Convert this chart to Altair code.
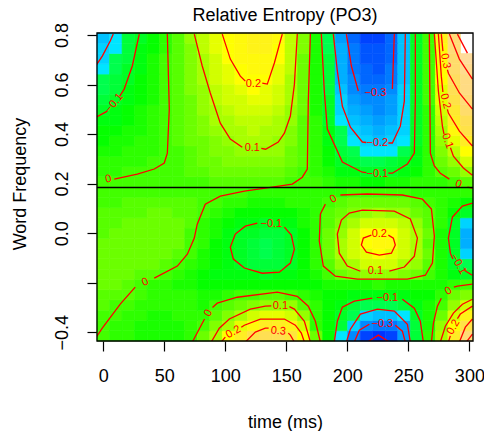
import colorsys
import altair as alt
import pandas as pd

TITLE = "Relative Entropy (PO3)"
X_TITLE = "time (ms)"
Y_TITLE = "Word Frequency"

# grid of the fitted surface (cell centres)
time_ms = [0.0, 10.27, 20.54, 30.81, 41.08, 51.35, 61.62, 71.89, 82.16, 92.43,
           102.7, 112.97, 123.24, 133.51, 143.78, 154.05, 164.32, 174.59, 184.86, 195.13,
           205.4, 215.67, 225.94, 236.21, 246.48, 256.75, 267.02, 277.29, 287.56, 297.83]
word_freq = [-0.415, -0.3735, -0.3321, -0.2906, -0.2491, -0.2077, -0.1662, -0.1247, -0.0832, -0.0418,
             -0.0003, 0.0412, 0.0826, 0.1241, 0.1656, 0.207, 0.2485, 0.29, 0.3315, 0.3729,
             0.4144, 0.4559, 0.4973, 0.5388, 0.5803, 0.6218, 0.6632, 0.7047, 0.7462, 0.7876]

# surface values, one row per word_freq value (bottom row first), one column per time value
z_rows = [
    [-0.005,-0.02,-0.03,-0.04,-0.05,-0.05,-0.04,-0.02,0.045,0.12,0.2,0.28,0.33,0.35,0.35,0.31,0.21,0.05,-0.06,-0.17,-0.28,-0.37,-0.41,-0.37,-0.27,-0.14,-0.02,0.11,0.27,0.42],
    [0.002,-0.015,-0.03,-0.04,-0.045,-0.045,-0.04,-0.03,0.0,0.065,0.12,0.18,0.23,0.27,0.28,0.24,0.15,-0.01,-0.06,-0.13,-0.21,-0.3,-0.32,-0.31,-0.26,-0.135,-0.04,0.08,0.21,0.33],
    [0.01,-0.003,-0.02,-0.03,-0.035,-0.035,-0.03,-0.025,-0.02,0.03,0.065,0.105,0.15,0.18,0.19,0.15,0.08,-0.02,-0.06,-0.11,-0.165,-0.21,-0.23,-0.215,-0.18,-0.105,-0.04,0.05,0.16,0.25],
    [0.02,0.01,-0.005,-0.02,-0.03,-0.03,-0.03,-0.03,-0.04,-0.005,0.02,0.05,0.075,0.095,0.1,0.08,0.015,-0.03,-0.06,-0.095,-0.125,-0.15,-0.16,-0.15,-0.125,-0.085,-0.05,0.005,0.1,0.15],
    [0.03,0.025,0.015,0.005,-0.01,-0.02,-0.025,-0.03,-0.05,-0.045,-0.03,-0.003,0.01,0.02,0.02,0.0,-0.02,-0.05,-0.065,-0.075,-0.085,-0.09,-0.095,-0.09,-0.085,-0.07,-0.055,-0.01,0.04,0.07],
    [0.04,0.035,0.02,0.003,-0.015,-0.03,-0.04,-0.05,-0.06,-0.065,-0.07,-0.07,-0.07,-0.07,-0.065,-0.06,-0.06,-0.055,-0.045,-0.04,-0.04,-0.035,-0.03,-0.035,-0.04,-0.045,-0.05,-0.05,-0.02,0.0],
    [0.045,0.045,0.04,0.03,0.02,-0.003,-0.025,-0.045,-0.065,-0.08,-0.09,-0.09,-0.098,-0.1,-0.097,-0.085,-0.075,-0.045,0.005,0.04,0.065,0.08,0.085,0.08,0.06,0.035,0.0,-0.04,-0.08,-0.11],
    [0.045,0.05,0.05,0.045,0.035,0.02,0.003,-0.025,-0.05,-0.075,-0.095,-0.115,-0.13,-0.135,-0.13,-0.105,-0.075,-0.03,0.03,0.08,0.115,0.15,0.16,0.15,0.12,0.08,0.025,-0.04,-0.1,-0.16],
    [0.04,0.045,0.05,0.05,0.045,0.035,0.02,-0.005,-0.035,-0.065,-0.09,-0.115,-0.135,-0.145,-0.14,-0.11,-0.07,-0.02,0.04,0.11,0.15,0.19,0.205,0.19,0.15,0.105,0.04,-0.04,-0.11,-0.2],
    [0.035,0.04,0.045,0.05,0.05,0.045,0.035,0.005,-0.025,-0.06,-0.09,-0.115,-0.135,-0.145,-0.14,-0.115,-0.07,-0.02,0.04,0.11,0.16,0.21,0.23,0.215,0.16,0.105,0.03,-0.05,-0.12,-0.24],
    [0.03,0.035,0.04,0.045,0.05,0.05,0.04,0.01,-0.02,-0.05,-0.08,-0.1,-0.12,-0.13,-0.125,-0.1,-0.065,-0.02,0.035,0.1,0.15,0.2,0.21,0.205,0.16,0.105,0.035,-0.04,-0.12,-0.24],
    [0.02,0.03,0.035,0.04,0.045,0.045,0.04,0.02,-0.01,-0.035,-0.06,-0.08,-0.095,-0.1,-0.095,-0.08,-0.05,-0.015,0.025,0.07,0.11,0.15,0.16,0.155,0.125,0.085,0.03,-0.03,-0.1,-0.2],
    [0.015,0.02,0.025,0.03,0.035,0.035,0.03,0.02,0.002,-0.02,-0.04,-0.055,-0.065,-0.07,-0.065,-0.055,-0.035,-0.01,0.015,0.045,0.075,0.1,0.105,0.1,0.08,0.055,0.02,-0.02,-0.065,-0.12],
    [0.01,0.012,0.015,0.02,0.022,0.022,0.02,0.015,0.008,-0.005,-0.02,-0.03,-0.035,-0.04,-0.035,-0.03,-0.02,-0.01,0.003,0.02,0.035,0.045,0.05,0.045,0.035,0.025,0.005,-0.015,-0.04,-0.06],
    [0.005,0.006,0.007,0.008,0.01,0.01,0.01,0.01,0.008,0.005,0.0,-0.005,-0.01,-0.012,-0.012,-0.01,-0.01,-0.01,-0.01,-0.01,-0.008,-0.005,-0.004,-0.005,-0.008,-0.01,-0.015,-0.02,-0.025,-0.02],
    [0.004,0.004,0.003,0.002,0.001,0.0,0.002,0.006,0.01,0.014,0.017,0.019,0.02,0.02,0.017,0.012,0.005,-0.007,-0.023,-0.039,-0.05,-0.056,-0.056,-0.052,-0.035,-0.025,-0.018,-0.01,0.008,0.03],
    [-0.014,-0.011,-0.008,-0.006,-0.004,-0.001,0.006,0.016,0.026,0.036,0.042,0.047,0.05,0.049,0.043,0.029,0.012,-0.014,-0.045,-0.078,-0.099,-0.111,-0.113,-0.104,-0.08,-0.06,-0.02,0.015,0.045,0.09],
    [-0.03,-0.024,-0.018,-0.013,-0.008,-0.001,0.009,0.023,0.038,0.052,0.061,0.068,0.073,0.071,0.062,0.042,0.017,-0.018,-0.062,-0.107,-0.135,-0.152,-0.154,-0.141,-0.12,-0.085,-0.018,0.045,0.09,0.15],
    [-0.045,-0.037,-0.028,-0.02,-0.012,-0.002,0.011,0.03,0.048,0.067,0.078,0.087,0.093,0.091,0.08,0.054,0.022,-0.023,-0.075,-0.13,-0.165,-0.185,-0.188,-0.173,-0.155,-0.098,-0.015,0.07,0.14,0.21],
    [-0.06,-0.05,-0.038,-0.027,-0.016,-0.003,0.013,0.035,0.057,0.079,0.092,0.103,0.11,0.108,0.095,0.064,0.026,-0.026,-0.086,-0.148,-0.188,-0.211,-0.214,-0.197,-0.18,-0.1,-0.013,0.09,0.18,0.27],
    [-0.075,-0.063,-0.048,-0.034,-0.02,-0.003,0.015,0.04,0.065,0.09,0.105,0.118,0.125,0.123,0.108,0.073,0.03,-0.028,-0.095,-0.164,-0.208,-0.233,-0.236,-0.217,-0.195,-0.1,-0.012,0.11,0.23,0.33],
    [-0.093,-0.078,-0.059,-0.042,-0.025,-0.004,0.017,0.046,0.074,0.103,0.12,0.134,0.143,0.14,0.123,0.083,0.034,-0.031,-0.104,-0.179,-0.228,-0.255,-0.259,-0.238,-0.2,-0.1,-0.011,0.13,0.27,0.37],
    [-0.11,-0.093,-0.07,-0.05,-0.03,-0.005,0.019,0.051,0.083,0.115,0.134,0.15,0.16,0.157,0.138,0.093,0.038,-0.034,-0.113,-0.195,-0.248,-0.278,-0.281,-0.259,-0.204,-0.1,-0.01,0.15,0.3,0.4],
    [-0.127,-0.107,-0.081,-0.058,-0.035,-0.006,0.021,0.057,0.092,0.128,0.149,0.167,0.178,0.174,0.153,0.103,0.043,-0.036,-0.12,-0.208,-0.264,-0.296,-0.3,-0.276,-0.207,-0.1,-0.009,0.17,0.33,0.42],
    [-0.145,-0.124,-0.094,-0.067,-0.04,-0.007,0.023,0.062,0.1,0.139,0.162,0.181,0.193,0.189,0.166,0.112,0.046,-0.039,-0.129,-0.224,-0.284,-0.318,-0.323,-0.297,-0.21,-0.1,-0.008,0.185,0.36,0.44],
    [-0.16,-0.139,-0.105,-0.075,-0.045,-0.008,0.025,0.066,0.108,0.149,0.174,0.195,0.208,0.203,0.178,0.12,0.05,-0.041,-0.135,-0.234,-0.297,-0.333,-0.338,-0.311,-0.212,-0.1,-0.007,0.2,0.38,0.46],
    [-0.175,-0.152,-0.115,-0.082,-0.049,-0.008,0.027,0.071,0.116,0.16,0.187,0.209,0.223,0.218,0.191,0.129,0.053,-0.042,-0.14,-0.242,-0.307,-0.344,-0.349,-0.321,-0.214,-0.1,-0.006,0.21,0.4,0.48],
    [-0.19,-0.163,-0.123,-0.088,-0.053,-0.009,0.028,0.074,0.121,0.167,0.195,0.219,0.233,0.228,0.2,0.135,0.056,-0.043,-0.144,-0.25,-0.317,-0.355,-0.36,-0.331,-0.216,-0.1,-0.006,0.22,0.41,0.5],
    [-0.205,-0.176,-0.133,-0.095,-0.057,-0.01,0.029,0.078,0.126,0.175,0.204,0.228,0.243,0.238,0.209,0.141,0.058,-0.044,-0.147,-0.255,-0.323,-0.363,-0.368,-0.338,-0.218,-0.1,-0.005,0.23,0.42,None],
    [-0.22,-0.185,-0.14,-0.1,-0.06,-0.01,0.03,0.08,0.13,0.18,0.21,0.235,0.25,0.245,0.215,0.145,0.06,-0.045,-0.15,-0.26,-0.33,-0.37,-0.375,-0.345,-0.22,-0.1,-0.005,0.24,0.43,None],
]

# contour lines: (time, word frequency) points, split where a label sits
contour_segments = [
    [(8.2,0.804),(5.7,0.776),(-0.8,0.715),(-5.7,0.679)],
    [(29.5,0.804),(23.8,0.675),(17.2,0.582),(13.5,0.553)],
    [(3.3,0.493),(-5.7,0.469)],
    [(52.5,0.804),(54.1,0.501),(52.5,0.323),(50.0,0.283),(41.8,0.259),(27.9,0.238),(9.0,0.218)],
    [(74.6,0.804),(81.1,0.675),(87.7,0.566),(95.9,0.444),(104.1,0.380),(113.9,0.347)],
    [(129.5,0.342),(133.0,0.339),(143.4,0.368),(148.4,0.404),(153.3,0.473),(156.6,0.6),(159.0,0.804)],
    [(97.5,0.804),(104.1,0.703),(112.3,0.634),(116.4,0.614)],
    [(130.3,0.606),(134.4,0.602),(140.2,0.687),(145.1,0.776),(146.7,0.804)],
    [(169.7,0.804),(168.0,0.533),(167.2,0.259),(163.1,0.226),(154.9,0.198),(132.8,0.182),(115.6,0.170),
     (95.9,0.149),(83.6,0.117),(77.0,0.036),(74.6,-0.020),(68.9,-0.085),(60.7,-0.133),(41.8,-0.182)],
    [(26.2,-0.218),(13.9,-0.287),(-0.8,-0.384),(-5.7,-0.420)],
    [(178.7,0.804),(181.1,0.574),(183.6,0.420),(195.9,0.287),(212.3,0.246),(215.6,0.244)],
    [(233.6,0.242),(236.9,0.242),(249.2,0.279),(254.9,0.323),(255.7,0.533),(255.7,0.804)],
    [(188.5,0.804),(191.8,0.655),(195.9,0.513),(202.5,0.428),(212.3,0.368),(215.5,0.366)],
    [(233.6,0.364),(236.9,0.364),(243.4,0.432),(246.7,0.533),(247.5,0.804)],
    [(199.2,0.804),(203.3,0.675),(209.0,0.574)],
    [(236.9,0.582),(237.7,0.695),(238.5,0.804)],
    [(267.2,0.804),(268.0,0.323),(271.3,0.271),(276.2,0.242),(283.6,0.218)],
    [(298.4,0.186),(302.5,0.182)],
    [(271.3,0.804),(274.6,0.574),(277.9,0.432),(279.2,0.40)],
    [(284.5,0.345),(286.9,0.311),(295.1,0.263),(302.5,0.234)],
    [(274.6,0.804),(277.0,0.634),(278.3,0.57)],
    [(282.0,0.50),(282.8,0.485),(291.8,0.412),(302.5,0.352)],
    [(277.0,0.804),(278.3,0.735)],
    [(282.0,0.66),(282.8,0.646),(291.8,0.566),(302.5,0.501)],
    [(283.6,0.804),(291.8,0.703),(302.5,0.622)],
    [(290.2,0.804),(298.4,0.727)],
    [(148.4,0.024),(154.1,-0.008),(156.6,-0.065),(153.3,-0.121),(144.3,-0.158),(130.3,-0.162),
     (115.6,-0.141),(106.6,-0.105),(104.1,-0.057),(108.2,-0.004),(116.4,0.028),(126.2,0.040)],
    [(194.3,0.154),(216.4,0.158),(245.1,0.154),(261.5,0.137),(268.9,0.097),(271.3,-0.012),(269.7,-0.121),
     (263.9,-0.170),(249.2,-0.186),(208.2,-0.186),(190.2,-0.174),(180.3,-0.133),(177.0,-0.032),(177.9,0.077),(182.0,0.117)],
    [(234.4,-0.154),(246.7,-0.137),(254.9,-0.093),(257.4,-0.020),(251.6,0.057),(238.5,0.089),(212.3,0.093),
     (201.6,0.081),(195.1,0.053),(191.8,-0.004),(193.4,-0.081),(200.0,-0.133),(210.7,-0.154)],
    [(233.6,-0.008),(237.7,-0.020),(239.3,-0.048),(236.1,-0.081),(226.2,-0.089),(215.6,-0.077),(211.5,-0.048),(213.1,-0.020),(219.7,-0.008)],
    [(302.5,0.121),(294.3,0.109),(286.1,0.065),(282.8,-0.020),(284.4,-0.081),(286.5,-0.105)],
    [(296.0,-0.150),(298.4,-0.158),(302.5,-0.170)],
    [(73.0,-0.440),(81.1,-0.364),(83.0,-0.347)],
    [(89.5,-0.300),(93.4,-0.283),(109.8,-0.259),(142.6,-0.238),(159.0,-0.255),(168.0,-0.295),(173.8,-0.356),(177.9,-0.440)],
    [(88.5,-0.440),(95.1,-0.384),(103.3,-0.347),(120.5,-0.307),(132.8,-0.295),(137.7,-0.294)],
    [(152.5,-0.297),(156.6,-0.307),(164.8,-0.356),(169.7,-0.440)],
    [(96.7,-0.440),(100.0,-0.420)],
    [(113.1,-0.380),(115.6,-0.372),(128.7,-0.347),(148.4,-0.347),(157.4,-0.372),(162.3,-0.404),(164.8,-0.440)],
    [(116.4,-0.440),(124.6,-0.400),(132.8,-0.384),(135.5,-0.384)],
    [(151.6,-0.404),(153.3,-0.412),(156.6,-0.440)],
    [(189.3,-0.440),(191.8,-0.356),(195.9,-0.299),(205.7,-0.275),(220.5,-0.263)],
    [(245.1,-0.267),(254.9,-0.303),(259.8,-0.356),(262.3,-0.440)],
    [(199.2,-0.440),(202.5,-0.388),(210.7,-0.327),(224.6,-0.307),(238.5,-0.315),(249.2,-0.368),(251.6,-0.440)],
    [(205.7,-0.440),(209.8,-0.392),(218.0,-0.368)],
    [(239.3,-0.372),(245.1,-0.396),(247.5,-0.440)],
    [(216.4,-0.440),(225.4,-0.412),(234.4,-0.440)],
    [(268.9,-0.440),(270.5,-0.364),(273.8,-0.295),(277.0,-0.263)],
    [(287.3,-0.218),(290.2,-0.214),(302.5,-0.206)],
    [(276.2,-0.440),(280.3,-0.376),(286.9,-0.323),(294.3,-0.287),(302.5,-0.267)],
    [(282.8,-0.440),(284.4,-0.415)],
    [(290.2,-0.345),(292.6,-0.327),(302.5,-0.295)],
    [(291.8,-0.440),(296.7,-0.380),(302.5,-0.347)],
    [(297.5,-0.440),(302.5,-0.408)],
]

# contour labels: text, time, word frequency, rotation
label_text = ["−0.1", "0", "0.1", "0.2", "0", "−0.1", "−0.2", "−0.3", "0", "0.1", "0.2", "0.3",
              "−0.1", "0", "0.1", "0.2", "−0.1", "0", "0.1", "0.2", "0.3", "−0.1", "−0.3", "0", "0.2"]
label_t = [9.0, 4.1, 122.1, 123.0, 34.4, 224.6, 224.6, 223.0, 291.0, 282.0, 280.3, 280.3,
           137.7, 188.5, 223.0, 226.2, 290.9, 86.1, 145.1, 106.6, 143.4, 232.8, 228.7, 282.8, 286.9]
label_w = [0.525, 0.218, 0.343, 0.602, -0.198, 0.238, 0.364, 0.566, 0.198, 0.372, 0.533, 0.695,
           0.036, 0.137, -0.154, -0.004, -0.125, -0.323, -0.295, -0.400, -0.396, -0.263, -0.368, -0.234, -0.380]
label_angle = [310, 348, 0, 0, 335, 0, 0, 0, 20, 70, 75, 80,
               0, 330, 0, 0, 60, 300, 0, 330, 5, 0, 0, 330, 300]

H_LINE = 0.184
x_ticks = [0, 50, 100, 150, 200, 250, 300]
y_ticks = [-0.4, -0.2, 0.0, 0.2, 0.4, 0.6, 0.8]
Z_LO, Z_HI = -0.57, 0.55
N_COL = 50
FONT = "Liberation Sans"
W, H = 376, 308


def hsv_hex(h, s, v):
    r, g, b = colorsys.hsv_to_rgb(h, s, v)
    return "#%02x%02x%02x" % (int(r * 255 + 0.5), int(g * 255 + 0.5), int(b * 255 + 0.5))


def seq(a, b, m):
    return [a + (b - a) * q / (m - 1) for q in range(m)] if m > 1 else [a]


def topo_colors(n):
    j = n // 3
    k = n // 3
    i = n - j - k
    cols = [hsv_hex(h, 1, 1) for h in seq(43 / 60, 31 / 60, i)]
    cols += [hsv_hex(h, 1, 1) for h in seq(23 / 60, 11 / 60, j)]
    cols += [hsv_hex(h, s, 1) for h, s in zip(seq(10 / 60, 6 / 60, k), seq(1, 0.3, k))]
    return cols


half_t = (time_ms[1] - time_ms[0]) / 2
half_w = (word_freq[1] - word_freq[0]) / 2
cells = []
for jj, wf in enumerate(word_freq):
    for ii, t in enumerate(time_ms):
        v = z_rows[jj][ii]
        if v is None:
            continue
        cells.append({"t0": t - half_t, "t1": t + half_t, "w0": wf - half_w, "w1": wf + half_w, "z": v})
heat_df = pd.DataFrame(cells)

line_rows = []
for sid, seg in enumerate(contour_segments):
    for k, (t, w) in enumerate(seg):
        line_rows.append({"seg": sid, "k": k, "t0": t, "w0": w})
line_df = pd.DataFrame(line_rows)

lab_df = pd.DataFrame({"txt": label_text, "t0": label_t, "w0": label_w, "ang": label_angle})
rule_df = pd.DataFrame({"w0": [H_LINE]})
title_df = pd.DataFrame({"txt": [TITLE]})

xs = alt.Scale(domain=[time_ms[0] - half_t, time_ms[-1] + half_t], nice=False, zero=False)
ys = alt.Scale(domain=[word_freq[0] - half_w, word_freq[-1] + half_w], nice=False, zero=False)
cs = alt.Scale(type="quantize", domain=[Z_LO, Z_HI], range=topo_colors(N_COL))

x_axis = alt.Axis(values=x_ticks, format="d", labelFontSize=18, tickSize=10, tickWidth=1.2,
                  tickColor="black", labelColor="black", labelPadding=16, domain=False, grid=False,
                  titleFontSize=18, titleFontWeight="normal", titleColor="black",
                  titleX=W / 2, titleY=86, titleBaseline="alphabetic", titleAlign="center",
                  labelFlush=False, labelOverlap=False)
y_axis = alt.Axis(values=y_ticks, format=".1f",
                  labelExpr="abs(datum.value + 0.2) < 1e-9 ? '' : datum.label",
                  labelAngle=270, labelAlign="center", labelBaseline="bottom", labelPadding=16,
                  labelFontSize=18, tickSize=10, tickWidth=1.2, tickColor="black", labelColor="black",
                  domain=False, grid=False, titleFontSize=18, titleFontWeight="normal", titleColor="black",
                  titleAngle=270, titleX=-72, titleY=150.5, titleBaseline="alphabetic", titleAlign="center",
                  labelFlush=False, labelOverlap=False)

X_ENC = alt.X("t0:Q", scale=xs, axis=x_axis, title=X_TITLE)
Y_ENC = alt.Y("w0:Q", scale=ys, axis=y_axis, title=Y_TITLE)

heat = alt.Chart(heat_df).mark_rect(strokeWidth=0.6).encode(
    x=X_ENC,
    x2="t1:Q",
    y=Y_ENC,
    y2="w1:Q",
    color=alt.Color("z:Q", scale=cs, legend=None),
    stroke=alt.Stroke("z:Q", scale=cs, legend=None),
)

lines = alt.Chart(line_df).mark_line(color="#ff0000", strokeWidth=1.3, clip=True).encode(
    x=X_ENC, y=Y_ENC, detail="seg:N", order="k:Q",
)

labels = alt.Chart(lab_df).mark_text(color="#ff0000", fontSize=11, font=FONT).encode(
    x=X_ENC, y=Y_ENC, text="txt:N", angle=alt.Angle("ang:Q", scale=None),
)

rule = alt.Chart(rule_df).mark_rule(color="black", strokeWidth=1.5).encode(y=Y_ENC)

box = alt.Chart(rule_df).mark_rect(fillOpacity=0, stroke="black", strokeWidth=1.3).encode(
    x=alt.value(0), x2=alt.value(W), y=alt.value(0), y2=alt.value(H)
)

title_mark = alt.Chart(title_df).mark_text(
    fontSize=18, font=FONT, color="black", align="center", baseline="middle"
).encode(x=alt.value(W / 2), y=alt.value(-17), text="txt:N")

chart = alt.layer(heat, lines, labels, rule, box, title_mark).properties(
    width=W, height=H,
    padding={"left": 89, "top": 25, "right": 11, "bottom": 90},
    autosize=alt.AutoSizeParams(type="none"),
).configure_view(strokeWidth=0).configure_axis(labelFont=FONT, titleFont=FONT).configure(font=FONT)

chart.save("out.html", embed_options={"renderer": "svg", "actions": False})
